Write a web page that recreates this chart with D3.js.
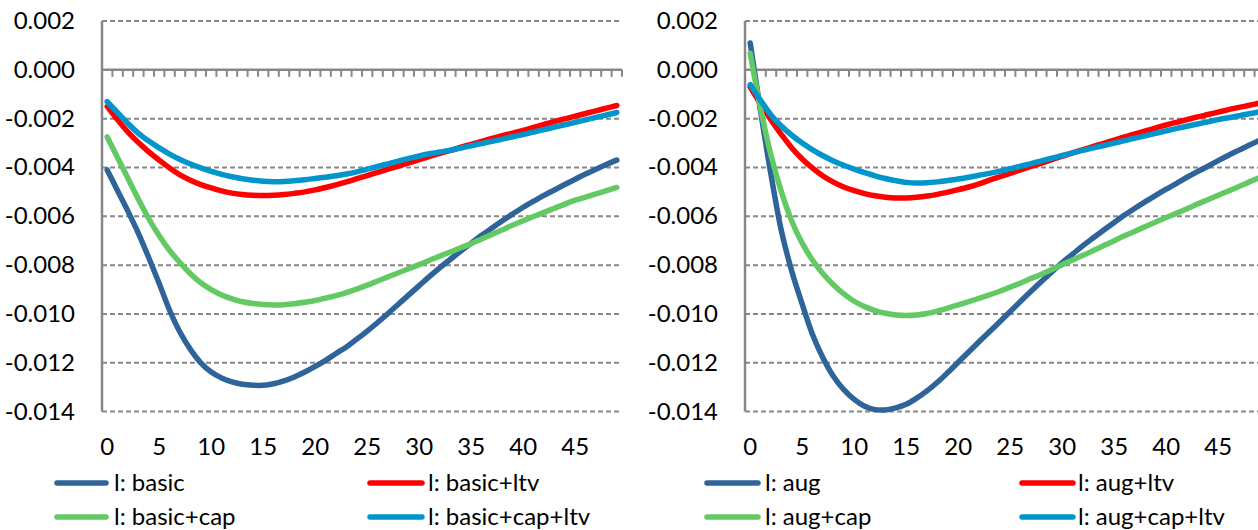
<!DOCTYPE html>
<html>
<head>
<meta charset="utf-8">
<script src="https://cdn.jsdelivr.net/npm/d3@7"></script>
<style>
  body { margin: 0; background: #fff; }
  svg { display: block; }
  text { font-family: Lato, "Liberation Sans", Arial, sans-serif; font-size: 24px; fill: #000; }
</style>
</head>
<body>
<svg id="chart" width="1258" height="530"></svg>
<script>
// Periods after the shock (0..49)
const periods = d3.range(50);
const xTickLabels = [0, 5, 10, 15, 20, 25, 30, 35, 40, 45];
const yTicks = [0.002, 0.000, -0.002, -0.004, -0.006, -0.008, -0.010, -0.012, -0.014];

// Left panel: basic model variants
const basic = [-0.00410,-0.00495,-0.00580,-0.00670,-0.00770,-0.00875,-0.00985,-0.01075,-0.01145,-0.01200,
  -0.01238,-0.01262,-0.01278,-0.01288,-0.01292,-0.01292,-0.01286,-0.01274,-0.01258,-0.01238,
  -0.01215,-0.01190,-0.01162,-0.01135,-0.01103,-0.01070,-0.01035,-0.00998,-0.00960,-0.00922,
  -0.00884,-0.00846,-0.00810,-0.00776,-0.00742,-0.00710,-0.00678,-0.00648,-0.00618,-0.00590,
  -0.00563,-0.00538,-0.00514,-0.00492,-0.00470,-0.00448,-0.00427,-0.00407,-0.00388,-0.00370];
const basicLtv = [-0.00150,-0.00205,-0.00255,-0.00298,-0.00336,-0.00370,-0.00402,-0.00430,-0.00452,-0.00470,
  -0.00484,-0.00496,-0.00505,-0.00511,-0.00514,-0.00515,-0.00514,-0.00511,-0.00506,-0.00500,
  -0.00492,-0.00482,-0.00471,-0.00459,-0.00446,-0.00433,-0.00420,-0.00407,-0.00394,-0.00381,
  -0.00368,-0.00355,-0.00342,-0.00330,-0.00317,-0.00305,-0.00293,-0.00281,-0.00270,-0.00259,
  -0.00248,-0.00236,-0.00224,-0.00212,-0.00201,-0.00190,-0.00179,-0.00168,-0.00157,-0.00146];
const basicCap = [-0.00275,-0.00360,-0.00445,-0.00530,-0.00610,-0.00680,-0.00740,-0.00790,-0.00835,-0.00872,
  -0.00900,-0.00922,-0.00938,-0.00950,-0.00957,-0.00961,-0.00963,-0.00962,-0.00958,-0.00952,
  -0.00945,-0.00935,-0.00925,-0.00913,-0.00898,-0.00882,-0.00865,-0.00848,-0.00831,-0.00815,
  -0.00798,-0.00780,-0.00763,-0.00746,-0.00729,-0.00712,-0.00693,-0.00674,-0.00655,-0.00636,
  -0.00618,-0.00601,-0.00584,-0.00567,-0.00550,-0.00534,-0.00521,-0.00508,-0.00495,-0.00482];
const basicCapLtv = [-0.00130,-0.00175,-0.00220,-0.00260,-0.00292,-0.00320,-0.00345,-0.00367,-0.00386,-0.00402,
  -0.00416,-0.00428,-0.00438,-0.00446,-0.00452,-0.00456,-0.00458,-0.00457,-0.00454,-0.00450,
  -0.00445,-0.00440,-0.00434,-0.00427,-0.00418,-0.00407,-0.00396,-0.00385,-0.00374,-0.00363,
  -0.00353,-0.00344,-0.00336,-0.00329,-0.00320,-0.00311,-0.00302,-0.00293,-0.00284,-0.00274,
  -0.00265,-0.00255,-0.00245,-0.00235,-0.00225,-0.00215,-0.00205,-0.00195,-0.00185,-0.00175];

// Right panel: augmented model variants
const aug = [0.00110,-0.00170,-0.00430,-0.00660,-0.00825,-0.00960,-0.01085,-0.01180,-0.01255,-0.01310,
  -0.01350,-0.01378,-0.01392,-0.01393,-0.01385,-0.01370,-0.01345,-0.01315,-0.01280,-0.01240,
  -0.01198,-0.01156,-0.01114,-0.01073,-0.01032,-0.00990,-0.00948,-0.00907,-0.00867,-0.00828,
  -0.00790,-0.00755,-0.00720,-0.00688,-0.00656,-0.00625,-0.00595,-0.00567,-0.00540,-0.00514,
  -0.00489,-0.00465,-0.00440,-0.00417,-0.00395,-0.00372,-0.00350,-0.00329,-0.00308,-0.00288];
const augLtv = [-0.00071,-0.00140,-0.00205,-0.00265,-0.00320,-0.00365,-0.00403,-0.00435,-0.00460,-0.00480,
  -0.00495,-0.00507,-0.00516,-0.00522,-0.00525,-0.00525,-0.00522,-0.00517,-0.00510,-0.00501,
  -0.00491,-0.00480,-0.00467,-0.00452,-0.00438,-0.00424,-0.00410,-0.00396,-0.00382,-0.00368,
  -0.00354,-0.00340,-0.00327,-0.00314,-0.00301,-0.00288,-0.00275,-0.00262,-0.00250,-0.00238,
  -0.00226,-0.00215,-0.00204,-0.00193,-0.00183,-0.00173,-0.00163,-0.00154,-0.00145,-0.00136];
const augCap = [0.00068,-0.00160,-0.00350,-0.00500,-0.00620,-0.00710,-0.00780,-0.00835,-0.00880,-0.00918,
  -0.00948,-0.00970,-0.00986,-0.00997,-0.01004,-0.01006,-0.01004,-0.00998,-0.00988,-0.00976,
  -0.00963,-0.00950,-0.00936,-0.00922,-0.00907,-0.00890,-0.00873,-0.00855,-0.00837,-0.00818,
  -0.00798,-0.00779,-0.00760,-0.00740,-0.00720,-0.00700,-0.00680,-0.00661,-0.00642,-0.00623,
  -0.00605,-0.00587,-0.00569,-0.00550,-0.00532,-0.00514,-0.00496,-0.00478,-0.00459,-0.00441];
const augCapLtv = [-0.00061,-0.00125,-0.00185,-0.00230,-0.00268,-0.00300,-0.00328,-0.00352,-0.00373,-0.00391,
  -0.00407,-0.00421,-0.00434,-0.00445,-0.00454,-0.00461,-0.00464,-0.00463,-0.00459,-0.00453,
  -0.00447,-0.00440,-0.00432,-0.00424,-0.00415,-0.00405,-0.00395,-0.00384,-0.00373,-0.00362,
  -0.00351,-0.00340,-0.00330,-0.00320,-0.00310,-0.00300,-0.00290,-0.00280,-0.00270,-0.00260,
  -0.00250,-0.00240,-0.00231,-0.00222,-0.00213,-0.00204,-0.00196,-0.00188,-0.00180,-0.00172];

const basicNames = ["l: basic", "l: basic+ltv", "l: basic+cap", "l: basic+cap+ltv"];
const augNames = ["l: aug", "l: aug+ltv", "l: aug+cap", "l: aug+cap+ltv"];
const seriesColors = ["#2E649A", "#FF0000", "#63C963", "#0096CC"];

const svg = d3.select("#chart");
const axisColor = "#878787";

const panels = [
  { left: 102, right: 622, series: [basic, basicLtv, basicCap, basicCapLtv], names: basicNames,
    legendCols: [{ x1: 55, x2: 108, tx: 114 }, { x1: 368, x2: 424, tx: 428 }] },
  { left: 745, right: 1265, series: [aug, augLtv, augCap, augCapLtv], names: augNames,
    legendCols: [{ x1: 705, x2: 760, tx: 765 }, { x1: 1020, x2: 1075, tx: 1078 }] }
];
const legendRows = [483, 517];

const y = d3.scaleLinear().domain([-0.014, 0.002]).range([411.6, 21]);

panels.forEach(p => {
  const g = svg.append("g");
  const x = d3.scalePoint().domain(periods).range([p.left, p.right]).padding(0.5);
  const band = d3.scaleBand().domain(periods).range([p.left, p.right]);

  // horizontal gridlines (dashed); the zero line is drawn as the category axis
  g.selectAll("line.grid").data(yTicks.filter(v => v !== 0)).join("line")
    .attr("class", "grid")
    .attr("x1", p.left).attr("x2", p.right)
    .attr("y1", d => y(d)).attr("y2", d => y(d))
    .attr("stroke", axisColor).attr("stroke-width", 2)
    .attr("stroke-dasharray", "5,3");

  // value axis
  g.append("line")
    .attr("x1", p.left).attr("x2", p.left)
    .attr("y1", y(0.002)).attr("y2", y(-0.014))
    .attr("stroke", axisColor).attr("stroke-width", 2.5);

  g.selectAll("text.ylab").data(yTicks).join("text")
    .attr("class", "ylab")
    .attr("x", p.left - 27).attr("y", d => y(d) + 8)
    .attr("text-anchor", "end")
    .text(d => d3.format(".3f")(d).replace("\u2212", "-"));

  // category axis at zero with tick marks at category boundaries
  g.append("line")
    .attr("x1", p.left).attr("x2", p.right)
    .attr("y1", y(0)).attr("y2", y(0))
    .attr("stroke", axisColor).attr("stroke-width", 2.5);
  const boundaries = periods.map(d => band(d)).concat([p.right]).slice(1);
  g.selectAll("line.xtick").data(boundaries).join("line")
    .attr("class", "xtick")
    .attr("x1", d => d).attr("x2", d => d)
    .attr("y1", y(0)).attr("y2", y(0) + 7)
    .attr("stroke", axisColor).attr("stroke-width", 2);

  g.selectAll("text.xlab").data(xTickLabels).join("text")
    .attr("class", "xlab")
    .attr("x", d => x(d)).attr("y", 455)
    .attr("text-anchor", "middle")
    .text(d => d);

  // series lines
  const line = d3.line()
    .x((d, i) => x(periods[i]))
    .y(d => y(d))
    .curve(d3.curveCatmullRom.alpha(0.5));
  p.series.forEach((s, k) => {
    g.append("path")
      .datum(s)
      .attr("d", line)
      .attr("fill", "none")
      .attr("stroke", seriesColors[k])
      .attr("stroke-width", 5.5)
      .attr("stroke-linecap", "round")
      .attr("stroke-linejoin", "round");
  });

  // legend: two rows, two columns
  p.names.forEach((name, k) => {
    const col = p.legendCols[k % 2];
    const ry = legendRows[Math.floor(k / 2)];
    g.append("line")
      .attr("x1", col.x1 + 2).attr("x2", col.x2 - 2)
      .attr("y1", ry).attr("y2", ry)
      .attr("stroke", seriesColors[k]).attr("stroke-width", 5.5)
      .attr("stroke-linecap", "round");
    g.append("text")
      .attr("x", col.tx).attr("y", ry + 8)
      .text(name);
  });
});
</script>
</body>
</html>
